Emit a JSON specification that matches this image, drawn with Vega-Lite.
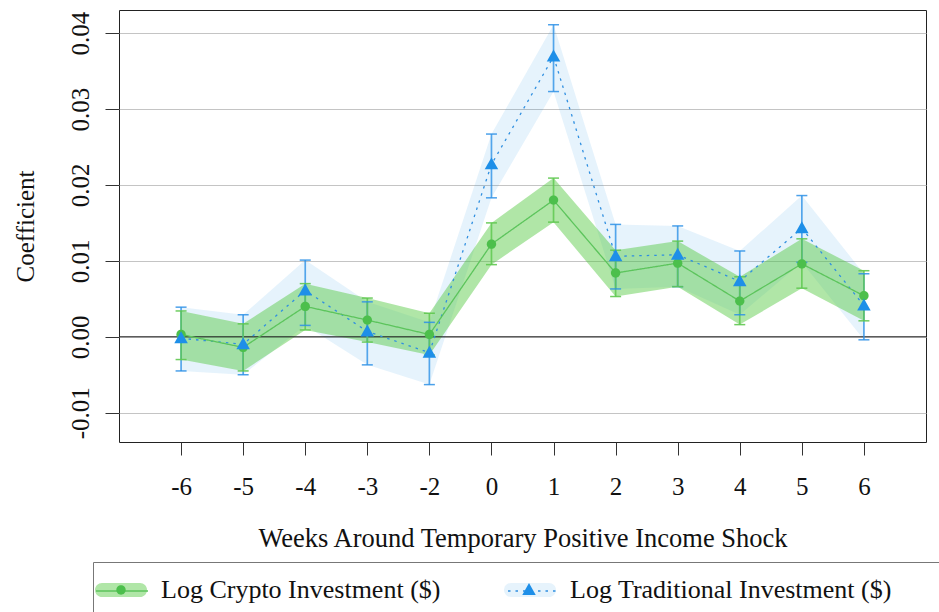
{
  "$schema": "https://vega.github.io/schema/vega-lite/v6.json",
  "width": 807,
  "height": 432,
  "autosize": {"type": "none"},
  "padding": {"left": 119, "top": 10, "right": 13, "bottom": 170},
  "background": "white",
  "config": {
    "font": "Liberation Serif",
    "view": {"stroke": "#222", "strokeWidth": 1},
    "axis": {"labelFont": "Liberation Serif", "titleFont": "Liberation Serif", "labelFontSize": 25, "titleFontSize": 26.5, "labelColor": "#111", "titleColor": "#111", "titleFontWeight": "normal", "domain": false, "tickColor": "#333", "tickWidth": 1},
    "legend": {"labelFont": "Liberation Serif", "labelFontSize": 26, "labelColor": "#111"}
  },
  "data": {"values": [
    {"week": "-6", "series": "Log Traditional Investment ($)", "est": -0.0002, "lo": -0.0045, "hi": 0.0039},
    {"week": "-5", "series": "Log Traditional Investment ($)", "est": -0.0010, "lo": -0.0050, "hi": 0.0029},
    {"week": "-4", "series": "Log Traditional Investment ($)", "est": 0.0061, "lo": 0.0015, "hi": 0.0101},
    {"week": "-3", "series": "Log Traditional Investment ($)", "est": 0.0007, "lo": -0.0037, "hi": 0.0046},
    {"week": "-2", "series": "Log Traditional Investment ($)", "est": -0.0021, "lo": -0.0063, "hi": 0.0019},
    {"week": "0", "series": "Log Traditional Investment ($)", "est": 0.0227, "lo": 0.0183, "hi": 0.0267},
    {"week": "1", "series": "Log Traditional Investment ($)", "est": 0.0369, "lo": 0.0323, "hi": 0.0411},
    {"week": "2", "series": "Log Traditional Investment ($)", "est": 0.0106, "lo": 0.0063, "hi": 0.0148},
    {"week": "3", "series": "Log Traditional Investment ($)", "est": 0.0108, "lo": 0.0066, "hi": 0.0146},
    {"week": "4", "series": "Log Traditional Investment ($)", "est": 0.0073, "lo": 0.0029, "hi": 0.0113},
    {"week": "5", "series": "Log Traditional Investment ($)", "est": 0.0143, "lo": 0.0098, "hi": 0.0186},
    {"week": "6", "series": "Log Traditional Investment ($)", "est": 0.0041, "lo": -0.0004, "hi": 0.0083},
    {"week": "-6", "series": "Log Crypto Investment ($)", "est": 0.0003, "lo": -0.0030, "hi": 0.0034},
    {"week": "-5", "series": "Log Crypto Investment ($)", "est": -0.0014, "lo": -0.0045, "hi": 0.0017},
    {"week": "-4", "series": "Log Crypto Investment ($)", "est": 0.0040, "lo": 0.0009, "hi": 0.0070},
    {"week": "-3", "series": "Log Crypto Investment ($)", "est": 0.0022, "lo": -0.0007, "hi": 0.0051},
    {"week": "-2", "series": "Log Crypto Investment ($)", "est": 0.0003, "lo": -0.0024, "hi": 0.0031},
    {"week": "0", "series": "Log Crypto Investment ($)", "est": 0.0122, "lo": 0.0095, "hi": 0.0150},
    {"week": "1", "series": "Log Crypto Investment ($)", "est": 0.0180, "lo": 0.0151, "hi": 0.0209},
    {"week": "2", "series": "Log Crypto Investment ($)", "est": 0.0084, "lo": 0.0053, "hi": 0.0114},
    {"week": "3", "series": "Log Crypto Investment ($)", "est": 0.0097, "lo": 0.0066, "hi": 0.0126},
    {"week": "4", "series": "Log Crypto Investment ($)", "est": 0.0047, "lo": 0.0016, "hi": 0.0079},
    {"week": "5", "series": "Log Crypto Investment ($)", "est": 0.0096, "lo": 0.0064, "hi": 0.0129},
    {"week": "6", "series": "Log Crypto Investment ($)", "est": 0.0054, "lo": 0.0021, "hi": 0.0087}
  ]},
  "resolve": {
    "scale": {"color": "independent", "fill": "independent", "stroke": "independent", "strokeDash": "independent", "shape": "independent"},
    "legend": {"color": "independent", "fill": "independent", "stroke": "independent", "strokeDash": "independent", "shape": "independent"}
  },
  "layer": [
    {
      "mark": {"type": "area", "interpolate": "linear"},
      "encoding": {
        "x": {"field": "week", "type": "ordinal", "scale": {"type": "point", "padding": 1, "domain": ["-6","-5","-4","-3","-2","0","1","2","3","4","5","6"]},
          "axis": {"labelAngle": 0, "tickSize": 13, "labelPadding": 39, "labelBaseline": "alphabetic", "grid": false, "title": "Weeks Around Temporary Positive Income Shock", "titleY": 104, "titleBaseline": "alphabetic"}},
        "y": {"field": "lo", "type": "quantitative", "scale": {"domain": [-0.01386, 0.04304], "nice": false, "zero": false},
          "axis": {"values": [-0.01, 0, 0.01, 0.02, 0.03, 0.04], "labelExpr": "replace(format(datum.value, '.2f'), '\u2212', '-')", "labelAngle": 270, "labelAlign": "center", "labelBaseline": "alphabetic", "tickSize": 14, "labelPadding": 17, "grid": true, "gridColor": "#c4c4c4", "gridWidth": 1, "title": "Coefficient", "titleFontSize": 25, "titleAngle": 270, "titleAlign": "center", "titleBaseline": "alphabetic", "titleX": -86, "titleY": 216}},
        "y2": {"field": "hi"},
        "fill": {"field": "series", "type": "nominal",
          "scale": {"domain": ["Log Crypto Investment ($)", "Log Traditional Investment ($)"], "range": ["rgba(80,200,60,0.45)", "rgba(30,144,230,0.11)"]},
          "legend": {"orient": "none", "legendX": -26, "legendY": 552, "direction": "horizontal", "title": "\u00a0", "titleOrient": "right", "titleFontSize": 52, "titlePadding": 60, "symbolSize": 2704, "symbolType": "M-0.73,-0.27L0.73,-0.27A0.27,0.27 0 0 1 0.73,0.27L-0.73,0.27A0.27,0.27 0 0 1 -0.73,-0.27Z", "symbolStrokeWidth": 0, "labelOffset": 14, "columnPadding": 62, "padding": 2, "labelLimit": 0, "strokeColor": "#777"}}
      }
    },
    {
      "data": {"values": [{}]},
      "mark": {"type": "rule", "color": "#222", "strokeWidth": 1},
      "encoding": {"y": {"datum": 0, "type": "quantitative", "scale": {"domain": [-0.01386, 0.04304], "nice": false, "zero": false}}}
    },
    {
      "mark": {"type": "line", "strokeWidth": 1.3},
      "encoding": {
        "x": {"field": "week", "type": "ordinal"},
        "y": {"field": "est", "type": "quantitative", "scale": {"domain": [-0.01386, 0.04304], "nice": false, "zero": false}},
        "stroke": {"field": "series", "type": "nominal",
          "scale": {"domain": ["Log Crypto Investment ($)", "Log Traditional Investment ($)"], "range": ["#5cc45c", "#2f8fe0"]},
          "legend": {"orient": "none", "legendX": -26, "legendY": 552, "direction": "horizontal", "title": null, "symbolSize": 2704, "symbolType": "stroke", "symbolStrokeWidth": 1.3, "labelOffset": 14, "columnPadding": 342, "padding": 2, "labelLimit": 0, "labelExpr": "''"}},
        "strokeDash": {"field": "series", "type": "nominal",
          "scale": {"domain": ["Log Crypto Investment ($)", "Log Traditional Investment ($)"], "range": [[1, 0], [2.5, 5]]},
          "legend": {"orient": "none", "legendX": -26, "legendY": 552, "direction": "horizontal", "title": null, "symbolSize": 2704, "symbolType": "stroke", "symbolStrokeWidth": 1.3, "labelOffset": 14, "columnPadding": 342, "padding": 2, "labelLimit": 0, "labelExpr": "''"}}
      }
    },
    {
      "mark": {"type": "rule", "strokeWidth": 1.7},
      "encoding": {
        "x": {"field": "week", "type": "ordinal"},
        "y": {"field": "lo", "type": "quantitative", "scale": {"domain": [-0.01386, 0.04304], "nice": false, "zero": false}},
        "y2": {"field": "hi"},
        "color": {"field": "series", "type": "nominal", "scale": {"domain": ["Log Crypto Investment ($)", "Log Traditional Investment ($)"], "range": ["rgba(95,200,80,0.85)", "rgba(45,145,230,0.8)"]}, "legend": null}
      }
    },
    {
      "mark": {"type": "tick", "size": 11, "thickness": 1.5, "opacity": 1},
      "encoding": {
        "x": {"field": "week", "type": "ordinal"},
        "y": {"field": "lo", "type": "quantitative", "scale": {"domain": [-0.01386, 0.04304], "nice": false, "zero": false}},
        "color": {"field": "series", "type": "nominal", "scale": {"domain": ["Log Crypto Investment ($)", "Log Traditional Investment ($)"], "range": ["rgba(95,200,80,0.9)", "rgba(45,145,230,0.85)"]}, "legend": null}
      }
    },
    {
      "mark": {"type": "tick", "size": 11, "thickness": 1.5, "opacity": 1},
      "encoding": {
        "x": {"field": "week", "type": "ordinal"},
        "y": {"field": "hi", "type": "quantitative", "scale": {"domain": [-0.01386, 0.04304], "nice": false, "zero": false}},
        "color": {"field": "series", "type": "nominal", "scale": {"domain": ["Log Crypto Investment ($)", "Log Traditional Investment ($)"], "range": ["rgba(95,200,80,0.9)", "rgba(45,145,230,0.85)"]}, "legend": null}
      }
    },
    {
      "mark": {"type": "point", "filled": true, "size": 2704, "opacity": 1, "strokeWidth": 0},
      "encoding": {
        "x": {"field": "week", "type": "ordinal"},
        "y": {"field": "est", "type": "quantitative", "scale": {"domain": [-0.01386, 0.04304], "nice": false, "zero": false}},
        "order": {"field": "series", "sort": "ascending"},
        "color": {"field": "series", "type": "nominal",
          "scale": {"domain": ["Log Crypto Investment ($)", "Log Traditional Investment ($)"], "range": ["#4cbf4c", "#1e8fe8"]},
          "legend": {"orient": "none", "legendX": -26, "legendY": 552, "direction": "horizontal", "title": null, "symbolSize": 2704, "symbolStrokeWidth": 0, "labelOffset": 14, "columnPadding": 342, "padding": 2, "labelLimit": 0, "labelExpr": "''"}},
        "shape": {"field": "series", "type": "nominal",
          "scale": {"domain": ["Log Crypto Investment ($)", "Log Traditional Investment ($)"], "range": ["M-0.18,0A0.18,0.18 0 1,0 0.18,0A0.18,0.18 0 1,0 -0.18,0Z", "M0,-0.27L0.26,0.19L-0.26,0.19Z"]},
          "legend": {"orient": "none", "legendX": -26, "legendY": 552, "direction": "horizontal", "title": null, "symbolSize": 2704, "symbolStrokeWidth": 0, "labelOffset": 14, "columnPadding": 342, "padding": 2, "labelLimit": 0, "labelExpr": "''"}}
      }
    }
  ]
}
